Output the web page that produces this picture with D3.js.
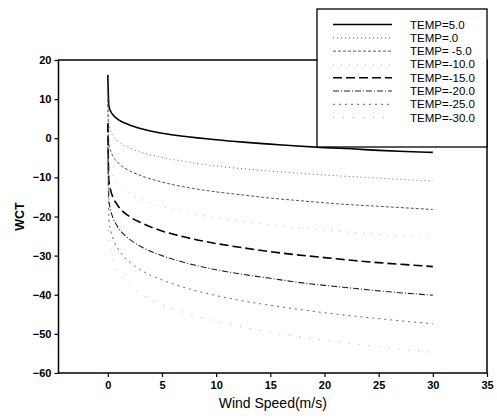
<!DOCTYPE html>
<html><head><meta charset="utf-8">
<script src="https://cdn.jsdelivr.net/npm/d3@7"></script>
<style>body{margin:0;background:#fff}svg{display:block;font-family:"Liberation Sans",Arial,sans-serif}</style>
</head><body><svg id="c" width="497" height="418"></svg>
<script>
const windSpeed = [0, 0.1, 0.3, 0.5, 1, 2, 3, 5, 7, 10, 12.5, 15, 17.5, 20, 22.5, 25, 27.5, 30];
const wctT5   = [16.2, 8.3, 6.7, 5.9, 4.7, 3.4, 2.5, 1.3, 0.5, -0.4, -1.0, -1.5, -2.0, -2.4, -2.7, -3.1, -3.4, -3.6];
const wctT0   = [13.1, 3.5, 1.6, 0.6, -0.8, -2.5, -3.5, -4.9, -5.9, -7.1, -7.8, -8.4, -8.9, -9.4, -9.8, -10.2, -10.6, -10.9];
const wctTm5  = [10.0, -1.3, -3.5, -4.7, -6.4, -8.3, -9.5, -11.2, -12.4, -13.7, -14.5, -15.3, -15.9, -16.5, -17.0, -17.4, -17.8, -18.2];
const wctTm10 = [6.9, -6.1, -8.6, -9.9, -11.9, -14.1, -15.5, -17.4, -18.8, -20.3, -21.3, -22.1, -22.9, -23.5, -24.1, -24.6, -25.1, -25.5];
const wctTm15 = [3.8, -10.9, -13.7, -15.2, -17.5, -20.0, -21.5, -23.7, -25.2, -26.9, -28.0, -29.0, -29.8, -30.5, -31.2, -31.8, -32.3, -32.8];
const wctTm20 = [0.7, -15.7, -18.8, -20.5, -23.0, -25.8, -27.6, -30.0, -31.7, -33.6, -34.8, -35.8, -36.8, -37.6, -38.3, -39.0, -39.6, -40.1];
const wctTm25 = [-2.4, -20.5, -24.0, -25.8, -28.5, -31.6, -33.6, -36.2, -38.1, -40.2, -41.6, -42.7, -43.7, -44.6, -45.4, -46.1, -46.8, -47.4];
const wctTm30 = [-5.5, -25.3, -29.1, -31.1, -34.1, -37.4, -39.6, -42.5, -44.5, -46.8, -48.3, -49.6, -50.7, -51.6, -52.5, -53.3, -54.1, -54.7];
const seriesNames = ["TEMP=5.0", "TEMP=.0", "TEMP= -5.0", "TEMP=-10.0", "TEMP=-15.0", "TEMP=-20.0", "TEMP=-25.0", "TEMP=-30.0"];
const xTicks = [0, 5, 10, 15, 20, 25, 30, 35];
const yTicks = [-60, -50, -40, -30, -20, -10, 0, 10, 20];

const styles = [
  {color:"#000", width:1.6, dash:null},
  {color:"#666", width:1, dash:"1,3"},
  {color:"#555", width:1, dash:"3,2"},
  {color:"#bbb", width:1, dash:"1,7"},
  {color:"#000", width:1.6, dash:"9,4"},
  {color:"#222", width:1.1, dash:"6,2,1,2"},
  {color:"#666", width:1, dash:"2,4"},
  {color:"#aaa", width:1, dash:"1,9"}
];
const allSeries = [wctT5, wctT0, wctTm5, wctTm10, wctTm15, wctTm20, wctTm25, wctTm30];

const svg = d3.select("#c");
const L = 58.5, R = 487, T = 60, B = 373;
const x = d3.scaleLinear().domain([-4.55, 35]).range([L, R]);
const y = d3.scaleLinear().domain([-60, 20]).range([B, T]);

const line = d3.line().x(d => x(d[0])).y(d => y(d[1])).curve(d3.curveMonotoneX);
allSeries.forEach((s, i) => {
  svg.append("path")
    .attr("d", line(windSpeed.map((v, j) => [v, s[j]])))
    .attr("fill", "none").attr("stroke", styles[i].color)
    .attr("stroke-width", styles[i].width)
    .attr("stroke-dasharray", styles[i].dash);
});

// frame
svg.append("rect").attr("x", L).attr("y", T).attr("width", R - L).attr("height", B - T)
  .attr("fill", "none").attr("stroke", "#000").attr("stroke-width", 1.5);

const xAxis = svg.append("g").attr("transform", `translate(0,${B})`)
  .call(d3.axisBottom(x).tickValues(xTicks).tickSize(4).tickPadding(4));
const yAxis = svg.append("g").attr("transform", `translate(${L},0)`)
  .call(d3.axisLeft(y).tickValues(yTicks).tickSize(4).tickPadding(3));
[xAxis, yAxis].forEach(a => {
  a.select(".domain").remove();
  a.selectAll("line").attr("stroke", "#000").attr("stroke-width", 1.2);
  a.selectAll("text").attr("fill", "#000").style("font-size", "11px").style("font-weight", "bold");
});

svg.append("text").attr("x", (L + R) / 2).attr("y", 408).attr("text-anchor", "middle")
  .style("font-size", "14px").text("Wind Speed(m/s)");
svg.append("text").attr("transform", `translate(24,${(T + B) / 2}) rotate(-90)`)
  .attr("text-anchor", "middle").style("font-size", "12.5px").style("font-weight", "bold").text("WCT");

// legend
const lg = svg.append("g");
lg.append("rect").attr("x", 317).attr("y", 9).attr("width", 487 - 317).attr("height", 138)
  .attr("fill", "#fff").attr("stroke", "#000").attr("stroke-width", 1.3);
seriesNames.forEach((n, i) => {
  const yy = 24.5 + 13.3 * i;
  lg.append("line").attr("x1", 333).attr("x2", 392).attr("y1", yy).attr("y2", yy)
    .attr("stroke", styles[i].color).attr("stroke-width", styles[i].width)
    .attr("stroke-dasharray", styles[i].dash);
  lg.append("text").attr("x", 410).attr("y", yy + 4).style("font-size", "11.5px").text(n);
});
</script></body></html>
